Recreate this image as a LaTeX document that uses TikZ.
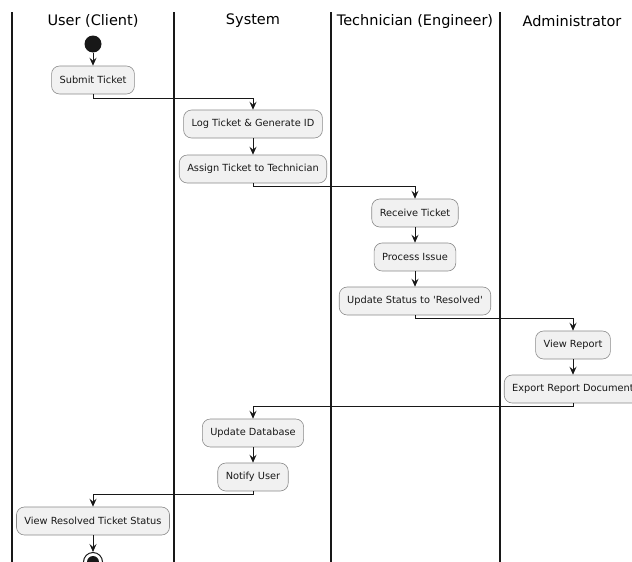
\documentclass[tikz,border=0pt]{standalone}
\usepackage{fontspec}
% a family without the TeX quote mapping, so ' stays a straight quote
\newfontfamily\dejavu{DejaVu Sans}
\usetikzlibrary{arrows.meta}
\definecolor{actfill}{HTML}{F1F1F1}
\definecolor{actline}{HTML}{8A8A8A}
\definecolor{ink}{HTML}{181818}
\tikzset{
  act/.style={draw=actline, fill=actfill, line width=0.6pt, rounded corners=8pt,
    minimum height=28pt, inner xsep=8pt, font=\dejavu\fontsize{9.8}{12}\selectfont, text=ink},
  lane/.style={line width=1.3pt, draw=ink},
  title/.style={font=\dejavu\fontsize{14.5}{17}\selectfont, text=black},
  flow/.style={draw=ink, line width=0.8pt, -{Stealth[length=8pt,width=7pt,inset=3pt]}},
}
\begin{document}
\begin{tikzpicture}[x=1pt,y=-1pt]
\clip (0,0) rectangle (632,562);
\fill[white] (0,0) rectangle (632,562);

% swimlane separators
\foreach \x in {12,174,331,500} \draw[lane] (\x,12) -- (\x,570);

% lane headers
\node[title] (hUser) at (93,21) {User (Client)};
\node[title] (hSys) at (253,21) {System};
\node[title] (hTech) at (415,21) {Technician (Engineer)};
\node[title] (hAdm) at (572,21) {Administrator};

% start
\node[circle, fill=ink, minimum size=17pt, inner sep=0pt] (start) at (93,44) {};

% activities
\node[act] (submit) at (93,80) {Submit Ticket};
\node[act] (log) at (253,124) {Log Ticket \& Generate ID};
\node[act] (assign) at (253,169) {Assign Ticket to Technician};
\node[act] (receive) at (415,213) {Receive Ticket};
\node[act] (process) at (415,257) {Process Issue};
\node[act] (status) at (415,301) {Update Status to 'Resolved'};
\node[act] (view) at (573,345) {View Report};
\node[act] (export) at (573,389) {Export Report Document};
\node[act] (db) at (253,433) {Update Database};
\node[act] (notify) at (253,477) {Notify User};
\node[act] (resolved) at (93,521) {View Resolved Ticket Status};

% end
\node[circle, draw=ink, fill=white, line width=1pt, minimum size=19pt, inner sep=0pt] (stop) at (93,562) {};
\fill[ink] (stop.center) circle (6pt);

% connectors
\draw[flow] (start) -- (submit);
\draw[flow] (submit.south) -- ++(0,4) -| (log.north);
\draw[flow] (log) -- (assign);
\draw[flow] (assign.south) -- ++(0,3) -| (receive.north);
\draw[flow] (receive) -- (process);
\draw[flow] (process) -- (status);
\draw[flow] (status.south) -- ++(0,3) -| (view.north);
\draw[flow] (view) -- (export);
\draw[flow] (export.south) -- ++(0,3) -| (db.north);
\draw[flow] (db) -- (notify);
\draw[flow] (notify.south) -- ++(0,3) -| (resolved.north);
\draw[flow] (resolved) -- (stop);
\end{tikzpicture}
\end{document}
